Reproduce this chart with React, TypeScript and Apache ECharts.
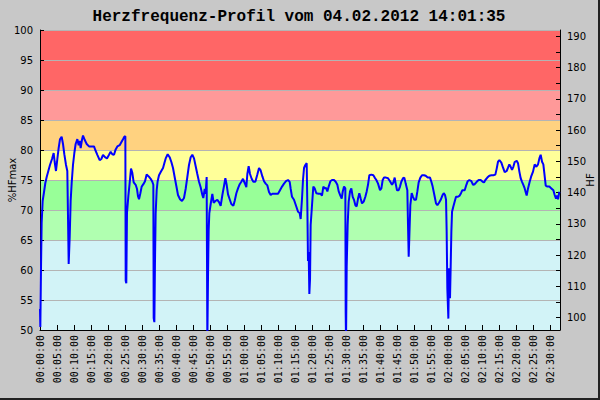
import React, { useEffect, useRef } from "react";
import * as echarts from "echarts";

const TITLE = "Herzfrequenz-Profil vom 04.02.2012 14:01:35";
const HF_MAX = 192;
const X_MAX_SEC = 9176;

// elapsed time in seconds
const timeSec: number[] = [
  0, 6, 18, 29, 47, 71, 94, 118, 147, 176, 212, 241, 259, 282, 306, 329, 353, 382, 406, 429,
  459, 482, 494, 506, 524, 541, 559, 582, 606, 629, 659, 682, 700, 718, 741, 759, 788, 824, 865, 953,
  976, 1012, 1053, 1082, 1112, 1147, 1182, 1218, 1247, 1276, 1306, 1335, 1365, 1406, 1435, 1465, 1488, 1506, 1512, 1523,
  1535, 1559, 1582, 1606, 1629, 1653, 1688, 1712, 1729, 1747, 1771, 1794, 1824, 1853, 1882, 1918, 1953, 1982, 2000, 2006,
  2018, 2029, 2041, 2059, 2076, 2100, 2135, 2171, 2194, 2218, 2253,
  2288, 2318, 2347, 2376, 2406, 2435, 2471, 2506, 2541, 2570, 2600, 2629, 2659, 2688, 2718, 2747, 2776, 2806, 2835, 2865,
  2882, 2906, 2923, 2941, 2953, 2965, 2976, 2988, 3012, 3041, 3065, 3094, 3129, 3159, 3188, 3218, 3247, 3271, 3294, 3318,
  3347, 3376, 3412, 3435, 3465, 3494, 3524, 3553, 3582, 3612, 3641, 3659, 3682, 3706, 3735, 3765, 3800, 3835, 3865, 3894,
  3924, 3953, 3982, 4012, 4041, 4071, 4100, 4141, 4200, 4235, 4271, 4306, 4341, 4377, 4406, 4424, 4447, 4482, 4518, 4553,
  4582, 4600, 4624, 4641, 4659, 4682, 4706, 4718, 4729, 4741, 4753, 4765, 4776, 4800, 4823, 4847, 4876, 4918, 4953, 4976,
  5000, 5024, 5047, 5071, 5094, 5124, 5153, 5188, 5218, 5247, 5271, 5300, 5324, 5341, 5365, 5388, 5394, 5400, 5412, 5429,
  5447, 5471, 5494, 5518, 5541, 5565, 5588, 5612, 5635, 5659, 5682, 5712, 5741, 5765, 5788, 5812, 5847, 5882, 5906, 5935,
  5965, 6000, 6024, 6047, 6071, 6106, 6141, 6176, 6212, 6235, 6259, 6276, 6300, 6329, 6353, 6376, 6406, 6429, 6453, 6482,
  6494, 6506, 6518, 6535, 6559, 6582, 6606, 6635, 6659, 6682, 6712, 6741, 6776, 6806, 6841,
  6882, 6906, 6929, 6959, 6988, 7012, 7041, 7071, 7100, 7124, 7147, 7165, 7176, 7188, 7206, 7218, 7235, 7247, 7259, 7271,
  7294, 7318, 7341, 7376, 7406, 7429, 7453, 7494, 7524, 7547, 7576, 7612, 7641, 7671, 7706, 7741, 7776, 7812, 7835, 7859,
  7894, 7929, 7965, 8000, 8035, 8059, 8082, 8106, 8141, 8171, 8200, 8235, 8259, 8282, 8306, 8329, 8353, 8376, 8412, 8435,
  8459, 8482, 8506, 8529, 8553, 8576, 8588, 8612, 8641, 8671, 8700, 8729, 8759, 8788, 8812, 8835, 8859, 8882, 8900, 8924,
  8953, 8988, 9024, 9059, 9082, 9106, 9124, 9141, 9165, 9176,
];

// heart rate in % of HFmax
const pctHFmax: number[] = [
  53.5, 50.5, 60.5, 67.8, 71.5, 73, 74.5, 75.5, 76.5, 77.5, 78.5, 79.5, 78, 76.5, 78.5, 80.3, 81.8, 82.2, 81, 79.3,
  77.5, 76.5, 69, 61, 65.5, 71.5, 74.5, 77.5, 79.5, 81, 81.8, 80.8, 81.5, 80.3, 81.7, 82.4, 81.7, 81, 80.6, 80.6,
  80, 79.2, 78.3, 78.5, 79.2, 78.8, 78.6, 79.2, 79.7, 79.3, 79.2, 80.1, 80.6, 80.8, 81.3, 81.8, 82.2, 82.3, 58.2, 57.8,
  69.5, 72.3, 74.5, 76.9, 76.2, 74.6, 74.2, 73.5, 72.3, 71.8, 72.8, 73.9, 74.3, 74.8, 75.9, 75.6, 75.2, 74.7, 74.2, 52,
  51.3, 61.4, 69.4, 73.3, 74.8, 75.8, 76.4, 77, 77.8, 78.6, 79.3,
  78.8, 78, 77, 75.5, 74, 72.5, 71.8, 71.5, 72, 73.5, 75.5, 77.5, 78.8, 79.2, 78.6, 77.3, 76, 74.7, 73.8, 72.5,
  72, 73.5, 72.7, 75.5, 48, 59, 66.5, 69.5, 71, 72.7, 71.2, 71.5, 71.7, 71.3, 70.7, 72.5, 74, 75.3, 74.2, 72.6,
  71.8, 71, 70.7, 71.5, 72.8, 73.6, 74.3, 74.7, 75.2, 74.5, 73.8, 76, 77.3, 76, 75.2, 74.7, 74.7, 75.9, 77, 76.6,
  75.6, 74.8, 74.4, 74.1, 73, 72.5, 72.7, 72.7, 72.7, 73.3, 73.9, 74.4, 74.8, 75, 74.7, 73.5, 72.2, 71.7, 70.7, 69.7,
  69.5, 68.5, 72, 75, 77, 77.5, 77.8, 70.5, 61.5, 63, 56, 58.5, 67.5, 70.8, 73.9, 73.6, 72.8, 72.7, 72.7, 72.4,
  73.9, 73.6, 73.7, 73.1, 73.9, 74.8, 75, 75, 74.7, 74.2, 73.1, 72.4, 71.9, 73, 73.9, 73.6, 53, 48, 60.6, 67.5,
  71.4, 73.1, 73.6, 72.2, 71.7, 70.8, 70.6, 71.9, 72.8, 71.9, 71.1, 71.4, 72.2, 73.1, 74.2, 75.8, 75.9, 75.8, 75.4, 75,
  74.4, 73.3, 73.6, 75, 75.4, 75.4, 75.3, 74.8, 74.2, 74.6, 75.4, 74.4, 73.3, 73.3, 73.9, 74.7, 75.3, 75.4, 74.4, 73.3,
  67.5, 62.2, 65.8, 70.8, 72.8, 72.2, 71.7, 71.7, 73.1, 74.6, 75.4, 75.8, 75.8, 75.7, 75.4,
  75.4, 74.7, 73.9, 72.5, 71.1, 70.8, 71.2, 71.7, 72.4, 72.8, 72.5, 71.7, 66.4, 56.9, 51.9, 60.3, 55.3, 60.6, 66.4, 69.7,
  70.6, 71.4, 72.2, 72.2, 72.4, 72.8, 73.3, 73.3, 74.2, 74.8, 75, 74.8, 74.2, 74.3, 74.7, 75, 75, 74.7, 74.6, 75,
  75.4, 75.7, 75.8, 75.8, 75.9, 76.9, 78.05, 78.3, 77.9, 77.05, 76.3, 76.5, 77.05, 77.6, 77.2, 76.7, 77.2, 78, 78.2, 77.8,
  76.4, 75.3, 74.7, 74.2, 73.6, 72.8, 72.4, 73.6, 74.7, 75.7, 76.4, 77.6, 77.2, 77.6, 78.6, 79.2, 78.05, 77.6, 76.1, 74.05,
  73.9, 73.9, 73.6, 73.3, 72.5, 71.9, 72.4, 71.8, 73.05, 73.1,
];

// zone colours, one per 5% band from 50 to 100
const zoneColors: string[] = [
  "#d2f3f7", "#d2f3f7", "#d2f3f7", "#b0ffb0", "#98ff98",
  "#ffff99", "#ffd280", "#ff9999", "#ff6666", "#ff6666",
];

const hfTicks: number[] = [100, 105, 110, 115, 120, 125, 130, 135, 140, 145, 150, 155, 160, 165, 170, 175, 180, 185, 190];
const hfLabels: number[] = [100, 110, 120, 130, 140, 150, 160, 170, 180, 190];

function fmt(sec: number): string {
  const h = Math.floor(sec / 3600);
  const m = Math.floor((sec % 3600) / 60);
  const s = Math.round(sec % 60);
  const p = (n: number) => (n < 10 ? "0" + n : "" + n);
  return p(h) + ":" + p(m) + ":" + p(s);
}

export default function App() {
  const ref = useRef<HTMLDivElement>(null);
  useEffect(() => {
    if (!ref.current) return;
    const chart = echarts.init(ref.current, null, { renderer: "svg" });
    const data = timeSec.map((t, i) => [t, pctHFmax[i]]);
    chart.setOption({
      animation: false,
      backgroundColor: "#c8c8c8",
      title: {
        text: TITLE,
        left: "center",
        top: 4,
        textStyle: { fontFamily: "Liberation Mono", fontWeight: "bold", fontSize: 16, color: "#000" },
      },
      grid: { left: 40, right: 38, top: 30, bottom: 68, show: false, containLabel: false, outerBoundsMode: "none" },
      xAxis: {
        type: "value",
        min: 0,
        max: X_MAX_SEC,
        interval: 300,
        axisLine: { lineStyle: { color: "#000", width: 1 } },
        axisTick: { inside: true, length: 5, lineStyle: { color: "#000" } },
        splitLine: { show: false },
        axisLabel: {
          rotate: 90,
          showMaxLabel: false,
          fontFamily: "DejaVu Sans Mono",
          fontSize: 10,
          color: "#000",
          margin: 5,
          formatter: (v: number) => (v % 300 === 0 ? fmt(v) : ""),
        },
      },
      yAxis: [
        {
          type: "value",
          min: 50,
          max: 100,
          interval: 5,
          position: "left",
          name: "%HFmax",
          nameLocation: "middle",
          nameGap: 23,
          nameMoveOverlap: false,
          nameRotate: 90,
          nameTextStyle: { fontFamily: "DejaVu Sans", fontSize: 10, color: "#000" },
          axisLine: { show: true, lineStyle: { color: "#000" } },
          axisTick: { show: true, inside: true, length: 4, lineStyle: { color: "#000" } },
          axisLabel: { fontFamily: "DejaVu Sans", fontSize: 10, color: "#000", margin: 7 },
          splitLine: { show: true, lineStyle: { color: "#b4b4b4", width: 1 } },
          splitArea: { show: true, areaStyle: { color: zoneColors, opacity: 1 } },
        },
        {
          type: "value",
          min: HF_MAX * 0.5,
          max: HF_MAX,
          position: "right",
          name: "HF",
          nameLocation: "middle",
          nameGap: 25,
          nameMoveOverlap: false,
          nameRotate: 90,
          nameTextStyle: { fontFamily: "DejaVu Sans", fontSize: 10, color: "#000" },
          axisLine: { show: true, lineStyle: { color: "#000" } },
          axisTick: { show: true, inside: true, length: 4, customValues: hfTicks, lineStyle: { color: "#000" } },
          axisLabel: { fontFamily: "DejaVu Sans", fontSize: 10, color: "#000", margin: 7, customValues: hfLabels },
          splitLine: { show: false },
        },
      ],
      series: [
        {
          type: "line",
          data,
          yAxisIndex: 0,
          showSymbol: false,
          symbol: "none",
          clip: true,
          lineStyle: { color: "#0000ff", width: 2 },
        },
      ],
    });
    return () => chart.dispose();
  }, []);
  return (
    <div
      style={{
        position: "absolute",
        left: 0,
        top: 0,
        width: 600,
        height: 400,
        boxSizing: "border-box",
        background: "#c8c8c8",
        borderRight: "2px solid #222",
        borderBottom: "2px solid #222",
      }}
    >
      <div ref={ref} style={{ width: 598, height: 398 }} />
    </div>
  );
}
